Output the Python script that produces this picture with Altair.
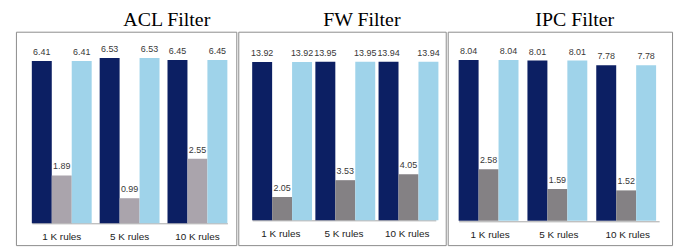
import altair as alt
import pandas as pd

groups = ["1 K rules", "5 K rules", "10 K rules"]
series = ["A", "B", "C"]

acl_dark = [6.41, 6.53, 6.45]
acl_grey = [1.89, 0.99, 2.55]
acl_light = [6.41, 6.53, 6.45]

fw_dark = [13.92, 13.95, 13.94]
fw_grey = [2.05, 3.53, 4.05]
fw_light = [13.92, 13.95, 13.94]

ipc_dark = [8.04, 8.01, 7.78]
ipc_grey = [2.58, 1.59, 1.52]
ipc_light = [8.04, 8.01, 7.78]

NAVY = "#0c1f63"
LIGHT = "#9fd3ea"
SANS = "Liberation Sans Narrow, Arial Narrow, Liberation Sans, sans-serif"


def panel(title, dark, grey, light, grey_color, width, xrange, pad_inner,
          ydomain, axis_offset, dx):
    rows = []
    for g, a, b, c in zip(groups, dark, grey, light):
        rows.append({"group": g, "series": "A", "value": a})
        rows.append({"group": g, "series": "B", "value": b})
        rows.append({"group": g, "series": "C", "value": c})
    df = pd.DataFrame(rows)
    base = alt.Chart(df).encode(
        x=alt.X(
            "group:N", sort=groups,
            scale=alt.Scale(range=xrange, paddingInner=pad_inner, paddingOuter=0),
            axis=alt.Axis(title=None, ticks=False, domainColor="#a6a6a6",
                          labelFont=SANS, labelFontSize=10, labelColor="#1a1a1a",
                          labelAngle=0, offset=axis_offset, labelPadding=8,
                          grid=False),
        ),
        xOffset=alt.XOffset("series:N", sort=series,
                            scale=alt.Scale(paddingInner=0, paddingOuter=0)),
        y=alt.Y("value:Q", scale=alt.Scale(domain=ydomain, nice=False, zero=False),
                axis=None),
    )
    bars = base.mark_bar().encode(
        y2=alt.datum(0),
        color=alt.Color("series:N", sort=series,
                        scale=alt.Scale(domain=series, range=[NAVY, grey_color, LIGHT]),
                        legend=None),
    )
    labels = base.mark_text(dy=-6, baseline="alphabetic", font=SANS,
                            fontSize=9, color="#383838").encode(
        text=alt.Text("value:Q", format=".2f")
    )
    return alt.layer(bars, labels).properties(
        width=width, height=215,
        title=alt.TitleParams(title, font="Liberation Serif", fontSize=20,
                              fontWeight="normal", color="#000000",
                              anchor="middle", dx=dx, offset=2),
    )


acl = panel("ACL Filter", acl_dark, acl_grey, acl_light, "#aaa4ac", 222,
            [16, 213], 0.1176, [-0.863, 7.569], -22, 41)
fw = panel("FW Filter", fw_dark, fw_grey, fw_light, "#848184", 209,
           [14, 199], 0.094, [-2.183, 16.59], -25, 20)
ipc = panel("IPC Filter", ipc_dark, ipc_grey, ipc_light, "#848184", 226,
            [11, 213], 0.086, [-1.216, 9.454], -24, 15)

chart = alt.hconcat(acl, fw, ipc, spacing=0).resolve_scale(
    color="independent", y="independent", x="independent"
).properties(
    padding={"left": 7, "top": 0, "right": 5, "bottom": 0},
    background="white",
).configure_view(stroke="#8c8c8c", strokeWidth=1)

chart.save("out.html", embed_options={"renderer": "svg", "actions": False})
